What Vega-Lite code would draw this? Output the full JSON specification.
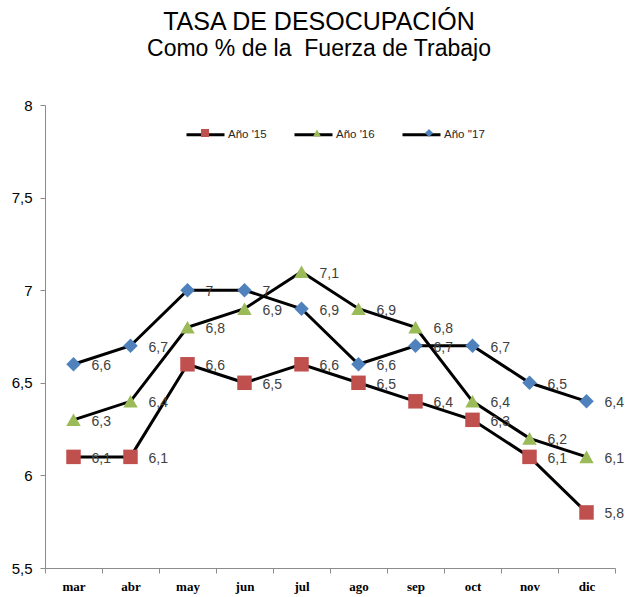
{
  "$schema": "https://vega.github.io/schema/vega-lite/v6.json",
  "width": 570,
  "height": 463,
  "autosize": {"type": "none"},
  "padding": {"left": 45, "top": 105, "right": 15, "bottom": 29},
  "background": "white",
  "title": {
    "text": "TASA DE DESOCUPACIÓN",
    "subtitle": "Como % de la\u00a0 Fuerza de Trabajo",
    "anchor": "middle",
    "frame": "group",
    "dx": -11,
    "offset": 37,
    "font": "Liberation Sans",
    "fontSize": 25,
    "fontWeight": "normal",
    "color": "black",
    "subtitleFont": "Liberation Sans",
    "subtitleFontSize": 23,
    "subtitleColor": "black",
    "subtitlePadding": 3
  },
  "data": {
    "values": [
      {"mes": "mar", "serie": "Año '15", "valor": 6.1},
      {"mes": "abr", "serie": "Año '15", "valor": 6.1},
      {"mes": "may", "serie": "Año '15", "valor": 6.6},
      {"mes": "jun", "serie": "Año '15", "valor": 6.5},
      {"mes": "jul", "serie": "Año '15", "valor": 6.6},
      {"mes": "ago", "serie": "Año '15", "valor": 6.5},
      {"mes": "sep", "serie": "Año '15", "valor": 6.4},
      {"mes": "oct", "serie": "Año '15", "valor": 6.3},
      {"mes": "nov", "serie": "Año '15", "valor": 6.1},
      {"mes": "dic", "serie": "Año '15", "valor": 5.8},
      {"mes": "mar", "serie": "Año '16", "valor": 6.3},
      {"mes": "abr", "serie": "Año '16", "valor": 6.4},
      {"mes": "may", "serie": "Año '16", "valor": 6.8},
      {"mes": "jun", "serie": "Año '16", "valor": 6.9},
      {"mes": "jul", "serie": "Año '16", "valor": 7.1},
      {"mes": "ago", "serie": "Año '16", "valor": 6.9},
      {"mes": "sep", "serie": "Año '16", "valor": 6.8},
      {"mes": "oct", "serie": "Año '16", "valor": 6.4},
      {"mes": "nov", "serie": "Año '16", "valor": 6.2},
      {"mes": "dic", "serie": "Año '16", "valor": 6.1},
      {"mes": "mar", "serie": "Año ''17", "valor": 6.6},
      {"mes": "abr", "serie": "Año ''17", "valor": 6.7},
      {"mes": "may", "serie": "Año ''17", "valor": 7.0},
      {"mes": "jun", "serie": "Año ''17", "valor": 7.0},
      {"mes": "jul", "serie": "Año ''17", "valor": 6.9},
      {"mes": "ago", "serie": "Año ''17", "valor": 6.6},
      {"mes": "sep", "serie": "Año ''17", "valor": 6.7},
      {"mes": "oct", "serie": "Año ''17", "valor": 6.7},
      {"mes": "nov", "serie": "Año ''17", "valor": 6.5},
      {"mes": "dic", "serie": "Año ''17", "valor": 6.4}
    ]
  },
  "encoding": {
    "x": {
      "field": "mes",
      "type": "nominal",
      "sort": ["mar", "abr", "may", "jun", "jul", "ago", "sep", "oct", "nov", "dic"],
      "scale": {"type": "band", "paddingInner": 0, "paddingOuter": 0},
      "axis": {
        "title": null,
        "labelAngle": 0,
        "labelFont": "Liberation Serif",
        "labelFontWeight": "bold",
        "labelFontSize": 13,
        "labelColor": "black",
        "labelPadding": 7,
        "ticks": true,
        "tickBand": "extent",
        "tickSize": 5,
        "tickColor": "#8c8c8c",
        "domainColor": "#8c8c8c",
        "grid": false
      }
    },
    "y": {
      "field": "valor",
      "type": "quantitative",
      "scale": {"domain": [5.5, 8], "nice": false, "zero": false},
      "axis": {
        "title": null,
        "values": [5.5, 6, 6.5, 7, 7.5, 8],
        "format": "~g",
        "labelFont": "Liberation Sans",
        "labelFontSize": 15,
        "labelColor": "black",
        "labelPadding": 8,
        "tickSize": 5,
        "tickColor": "#8c8c8c",
        "domainColor": "#8c8c8c",
        "grid": false
      }
    }
  },
  "layer": [
    {
      "mark": {"type": "line", "strokeWidth": 3},
      "encoding": {
        "stroke": {
          "field": "serie",
          "type": "nominal",
          "sort": ["Año '15", "Año '16", "Año ''17"],
          "scale": {"range": ["black", "black", "black"]},
          "legend": {
            "title": null,
            "orient": "none",
            "direction": "horizontal",
            "legendX": 140,
            "legendY": 9,
            "symbolType": "stroke",
            "symbolSize": 1444,
            "symbolStrokeWidth": 3,
            "labelFont": "Liberation Sans",
            "labelFontSize": 11.5,
            "labelColor": "#262626",
            "labelOffset": 2,
            "columnPadding": 21
          }
        }
      }
    },
    {
      "mark": {"type": "point", "filled": true, "opacity": 1, "size": 210},
      "encoding": {
        "color": {
          "field": "serie",
          "type": "nominal",
          "scale": {"domain": ["Año '15", "Año '16", "Año ''17"], "range": ["#C0504D", "#9BBB59", "#4F81BD"]},
          "legend": {
            "title": null,
            "orient": "none",
            "direction": "horizontal",
            "legendX": 155,
            "legendY": 23,
            "symbolSize": 64,
            "labelExpr": "''",
            "labelOffset": 0,
            "columnPadding": 102
          }
        },
        "shape": {
          "field": "serie",
          "type": "nominal",
          "scale": {"domain": ["Año '15", "Año '16", "Año ''17"], "range": ["square", "triangle-up", "diamond"]},
          "legend": {
            "title": null,
            "orient": "none",
            "direction": "horizontal",
            "legendX": 155,
            "legendY": 23,
            "symbolSize": 64,
            "labelExpr": "''",
            "labelOffset": 0,
            "columnPadding": 102
          }
        }
      }
    },
    {
      "mark": {
        "type": "text",
        "align": "left",
        "baseline": "middle",
        "dx": 18,
        "dy": 2,
        "font": "Liberation Sans",
        "fontSize": 14,
        "color": "#404040"
      },
      "encoding": {
        "text": {"field": "valor", "type": "quantitative", "format": "~g"}
      }
    }
  ],
  "config": {
    "view": {"stroke": null},
    "locale": {
      "number": {"decimal": ",", "thousands": ".", "grouping": [3], "currency": ["", " €"]}
    }
  }
}
